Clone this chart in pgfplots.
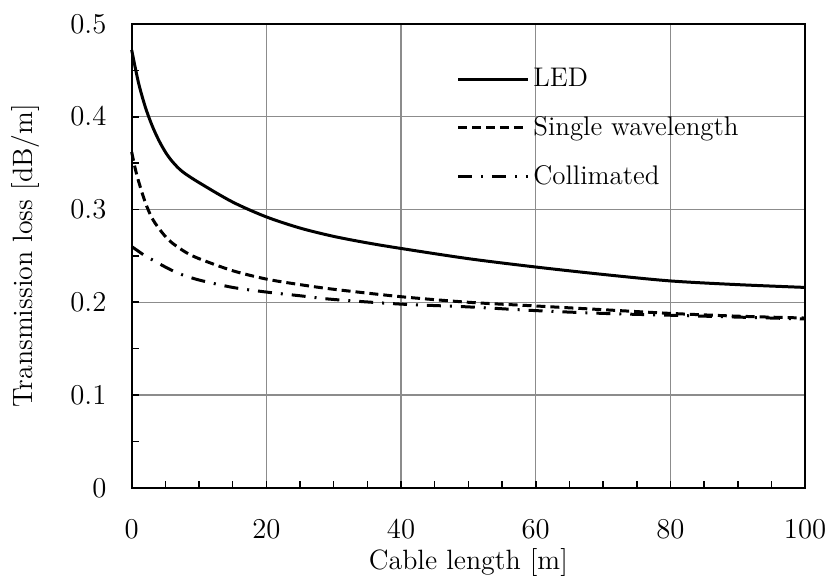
\documentclass[border=0pt]{standalone}
\usepackage{pgfplots}
\pgfplotsset{compat=1.18}

\definecolor{gridgray}{RGB}{140,140,140}

\begin{document}
\begin{tikzpicture}
\begin{axis}[
    scale only axis,
    width=337.5pt, height=232.5pt,
    xmin=0, xmax=100, ymin=0, ymax=0.5,
    xtick={0,20,...,100},
    ytick={0,0.1,...,0.5},
    minor x tick num=3,
    minor y tick num=1,
    tick align=inside,
    tick pos=left,
    major tick length=3.5pt,
    minor tick length=3.5pt,
    every tick/.style={black, line width=0.8pt},
    axis line style={line width=1pt},
    grid=major,
    major grid style={gridgray, line width=0.75pt},
    font=\fontsize{14}{16}\selectfont,
    ticklabel style={font=\fontsize{14.5}{16}\selectfont, inner sep=0pt},
    yticklabel style={
        /pgf/number format/fixed,
        /pgf/number format/precision=1,
        xshift=-12.5pt},
    xticklabel style={yshift=-16pt},
    xlabel={Cable length [m]},
    ylabel={Transmission loss [dB/m]},
    xlabel style={at={(axis description cs:0.5,-0.16)}, anchor=center},
    ylabel style={at={(axis description cs:-0.158,0.5)}, anchor=center},
    legend style={draw=none, fill=none, at={(0.473,0.922)}, anchor=north west,
        row sep=9.5pt, font=\fontsize{13.5}{15}\selectfont,
        /tikz/every even column/.append style={column sep=4pt}},
    legend cell align=left,
    legend image code/.code={\draw[#1] (0pt,0pt) -- (35pt,0pt);},
    clip=false,
]
\addplot[black, line width=1.5pt, smooth, tension=0.5] coordinates {
(0,0.472) (1,0.437) (2,0.411) (3,0.391) (4,0.375) (5,0.362)
(6,0.352) (7.5,0.341) (10,0.329) (15,0.308)
(20,0.292) (25,0.280) (30,0.271) (35,0.264) (40,0.258) (50,0.247)
(60,0.238) (70,0.230) (80,0.223) (90,0.219) (100,0.216)
};
\addlegendentry{LED}
\addplot[black, line width=1.5pt, smooth, tension=0.5, dash pattern=on 4.5pt off 2.5pt] coordinates {
(0,0.362) (0.5,0.345) (1,0.331) (2,0.308) (3,0.291) (4,0.280) (5,0.271)
(6,0.264) (8,0.254) (10,0.247) (15,0.234) (20,0.225)
(25,0.219) (30,0.214) (40,0.206) (50,0.200) (60,0.196) (70,0.192)
(80,0.188) (90,0.185) (100,0.183)
};
\addlegendentry{Single wavelength}
\addplot[black, line width=1.5pt, smooth, tension=0.5, dash pattern=on 7pt off 4.5pt on 1pt off 4.5pt] coordinates {
(0,0.260) (1,0.255) (2,0.250) (3,0.246) (5,0.238) (7,0.231) (10,0.224)
(15,0.216) (20,0.211) (25,0.207) (30,0.203) (40,0.198) (50,0.195)
(60,0.191) (70,0.188) (80,0.186) (90,0.184) (100,0.182)
};
\addlegendentry{Collimated}
% keep the reference's white margin round the picture
\path (rel axis cs:0,0) ++(-66pt,-44.5pt);
\path (rel axis cs:1,1) ++(12pt,12pt);
\end{axis}
\end{tikzpicture}
\end{document}
